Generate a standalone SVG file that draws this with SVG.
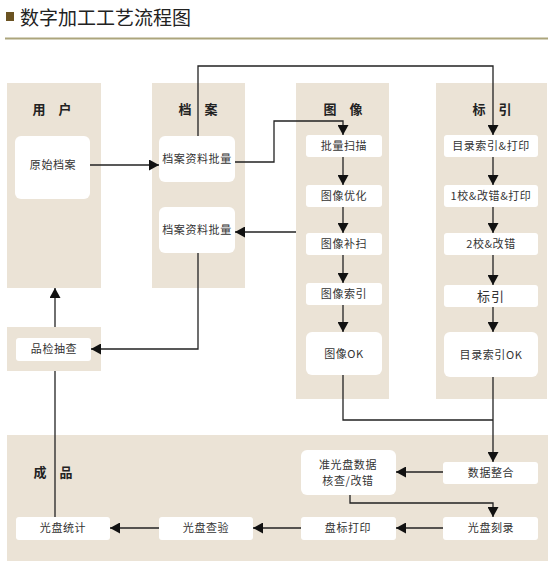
<svg xmlns="http://www.w3.org/2000/svg" width="551" height="565" viewBox="0 0 551 565">
<defs>
<marker id="ah" markerUnits="userSpaceOnUse" markerWidth="10" markerHeight="11" refX="10" refY="5.5" orient="auto">
<path d="M0,0 L10,5.5 L0,11 z" fill="#111"/>
</marker>
<style>
.lane{fill:#ebe3d6}
.node{fill:#ffffff}
.t{font-family:"Noto Sans CJK SC","Noto Sans",sans-serif;font-size:11px;fill:#333;text-anchor:middle;letter-spacing:0.6px}
.h{font-family:"Noto Sans CJK SC","Noto Sans",sans-serif;font-size:13px;font-weight:bold;fill:#222;text-anchor:middle}
.c{fill:none;stroke:#222;stroke-width:1.3}
.ca{fill:none;stroke:#222;stroke-width:1.3;marker-end:url(#ah)}
</style>
</defs>
<rect width="551" height="565" fill="#ffffff"/>
<g id="title">
<rect x="6" y="12" width="8" height="9" fill="#6b5322"/>
<text x="20" y="25" font-family="'Noto Sans CJK SC','Noto Sans',sans-serif" font-size="19" fill="#222">数字加工工艺流程图</text>
<rect x="5" y="37.5" width="543" height="2" fill="#aca57c"/>
</g>
<g id="lanes">
<rect class="lane" x="7" y="83" width="94" height="205"/>
<rect class="lane" x="152" y="83" width="93" height="205"/>
<rect class="lane" x="296" y="83" width="93" height="316"/>
<rect class="lane" x="436" y="83" width="111" height="316"/>
<rect class="lane" x="7" y="327" width="94" height="44"/>
<rect class="lane" x="7" y="435" width="541" height="126"/>
<text class="h" x="52" y="114">用　户</text>
<text class="h" x="198" y="114">档　案</text>
<text class="h" x="343" y="114">图　像</text>
<text class="h" x="492" y="114">标　引</text>
<text class="h" x="53" y="477">成　品</text>
</g>
<g id="n_yuanshi"><rect class="node" x="15" y="136" width="75" height="63" rx="6"/><text class="t" x="53" y="169">原始档案</text></g>
<g id="n_dangan1"><rect class="node" x="159" y="136" width="76" height="46" rx="6"/><text class="t" x="197" y="163">档案资料批量</text></g>
<g id="n_dangan2"><rect class="node" x="159" y="207" width="76" height="46" rx="6"/><text class="t" x="197" y="234">档案资料批量</text></g>
<g id="n_pinjian"><rect class="node" x="16" y="338" width="75" height="23" rx="3"/><text class="t" x="54" y="353">品检抽查</text></g>
<g id="n_saomiao"><rect class="node" x="306" y="135" width="76" height="22" rx="3"/><text class="t" x="344" y="150">批量扫描</text></g>
<g id="n_youhua"><rect class="node" x="306" y="185" width="76" height="22" rx="3"/><text class="t" x="344" y="200">图像优化</text></g>
<g id="n_busao"><rect class="node" x="306" y="233" width="76" height="22" rx="3"/><text class="t" x="344" y="248">图像补扫</text></g>
<g id="n_suoyin"><rect class="node" x="306" y="283" width="76" height="22" rx="3"/><text class="t" x="344" y="298">图像索引</text></g>
<g id="n_ok"><rect class="node" x="306" y="332" width="76" height="43" rx="6"/><text class="t" x="344" y="358">图像OK</text></g>
<g id="n_mulu"><rect class="node" x="444" y="135" width="94" height="22" rx="3"/><text class="t" x="491" y="150">目录索引&amp;打印</text></g>
<g id="n_jiao1"><rect class="node" x="444" y="185" width="94" height="22" rx="3"/><text class="t" x="491" y="200">1校&amp;改错&amp;打印</text></g>
<g id="n_jiao2"><rect class="node" x="444" y="233" width="94" height="22" rx="3"/><text class="t" x="491" y="248">2校&amp;改错</text></g>
<g id="n_biaoyin"><rect class="node" x="444" y="285" width="94" height="22" rx="3"/><text class="t" x="491" y="301" style="font-size:13px;letter-spacing:1px">标引</text></g>
<g id="n_muluok"><rect class="node" x="444" y="332" width="94" height="45" rx="6"/><text class="t" x="491" y="359">目录索引OK</text></g>
<g id="n_zhenghe"><rect class="node" x="443" y="462" width="95" height="22" rx="3"/><text class="t" x="491" y="477">数据整合</text></g>
<g id="n_hecha"><rect class="node" x="301" y="450" width="95" height="45" rx="6"/><text class="t" x="348" y="469">准光盘数据</text><text class="t" x="348" y="485">核查/改错</text></g>
<g id="n_kelu"><rect class="node" x="443" y="517" width="95" height="23" rx="3"/><text class="t" x="491" y="532">光盘刻录</text></g>
<g id="n_panbiao"><rect class="node" x="301" y="517" width="95" height="23" rx="3"/><text class="t" x="348" y="532">盘标打印</text></g>
<g id="n_chayan"><rect class="node" x="159" y="517" width="94" height="23" rx="3"/><text class="t" x="206" y="532">光盘查验</text></g>
<g id="n_tongji"><rect class="node" x="16" y="517" width="94" height="23" rx="3"/><text class="t" x="63" y="532">光盘统计</text></g>
<g id="connectors">
<path class="ca" d="M90,165 H159"/>
<path class="ca" d="M198,136 V66 H493 V135"/>
<path class="ca" d="M235,162 H274 V121 H343 V135"/>
<path class="ca" d="M343,157 V185"/>
<path class="ca" d="M343,207 V233"/>
<path class="ca" d="M343,255 V283"/>
<path class="ca" d="M343,305 V332"/>
<path class="ca" d="M493,157 V185"/>
<path class="ca" d="M493,207 V233"/>
<path class="ca" d="M493,255 V285"/>
<path class="ca" d="M493,307 V332"/>
<path class="ca" d="M296,232 H235"/>
<path class="ca" d="M198,253 V349 H91"/>
<path class="ca" d="M55,327 V288"/>
<path class="c" d="M55,517 V371"/>
<path class="c" d="M343,375 V420 H493"/>
<path class="ca" d="M493,377 V462"/>
<path class="ca" d="M443,472 H396"/>
<path class="ca" d="M350,495 V503 H493 V517"/>
<path class="ca" d="M443,528 H396"/>
<path class="ca" d="M301,528 H253"/>
<path class="ca" d="M159,528 H110"/>
</g>
</svg>
